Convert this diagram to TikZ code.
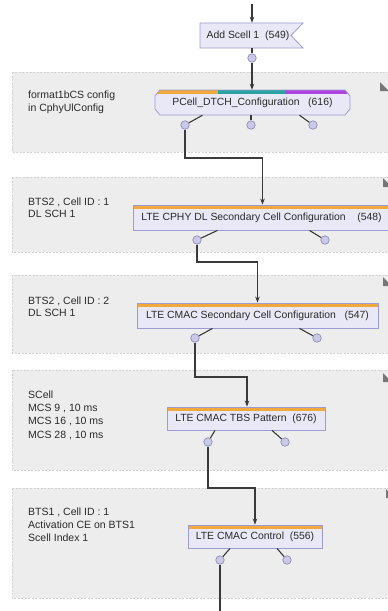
\documentclass[tikz,border=0pt]{standalone}
\usepackage{fontspec}
\setmainfont{Liberation Sans}
\usetikzlibrary{arrows.meta}
\definecolor{panelfill}{HTML}{EDEDED}
\definecolor{paneledge}{HTML}{D2D2D2}
\definecolor{boxfill}{HTML}{E8E8F7}
\definecolor{boxedge}{HTML}{9C9CD4}
\definecolor{stripeor}{HTML}{F2A83A}
\definecolor{stripeteal}{HTML}{2AA3A0}
\definecolor{stripepur}{HTML}{B044E0}
\definecolor{portfill}{HTML}{C9C9EA}
\definecolor{portedge}{HTML}{8585B5}
\definecolor{conncol}{HTML}{3A3A3A}
\definecolor{txtcol}{HTML}{2A2A2A}
\definecolor{markcol}{HTML}{767676}
\begin{document}
\begin{tikzpicture}[x=1pt,y=-1pt,
 panel/.style={fill=panelfill,draw=paneledge,dash pattern=on 2pt off 1.5pt,line width=0.6pt},
 note/.style={anchor=west,align=left,font=\fontsize{10.5}{12.5}\selectfont,text=txtcol,inner sep=0pt},
 blk/.style={rectangle,fill=boxfill,draw=boxedge,line width=0.8pt,inner sep=0pt,
   font=\fontsize{10.4}{12}\selectfont,text=txtcol,
   path picture={\fill[stripeor] (path picture bounding box.north west) rectangle ([yshift=-4pt]path picture bounding box.north east);}},
 lbl/.style={inner sep=0pt,font=\fontsize{10.4}{12}\selectfont,text=txtcol},
 port/.style={circle,fill=portfill,draw=portedge,line width=0.6pt,minimum size=8.5pt,inner sep=0pt},
 stub/.style={draw=conncol,line width=1.1pt},
 conn/.style={draw=conncol,line width=1.2pt},
 arr/.style={conn,-{Stealth[length=6pt,width=4.5pt]}},
 dogear/.style={fill=markcol}
]
\clip (0,0) rectangle (388,611);
\fill[white] (0,0) rectangle (388,611);

% panels
\draw[panel] (12,72) rectangle (395,152);
\draw[panel] (12,177) rectangle (395,252);
\draw[panel] (12,275) rectangle (395,353);
\draw[panel] (12,370) rectangle (395,470);
\draw[panel] (12,488) rectangle (395,598);
\fill[dogear] (380,82) -- (389,91) -- (380,91) -- cycle;
\fill[dogear] (383,178) -- (392,187) -- (383,187) -- cycle;
\fill[dogear] (383,277) -- (392,286) -- (383,286) -- cycle;
\fill[dogear] (383,373) -- (392,382) -- (383,382) -- cycle;
\fill[dogear] (386,489) -- (395,498) -- (386,498) -- cycle;

% panel notes
\node[note] (n1) at (28,102.5) {format1bCS config\\in CphyUlConfig};
\node[note] (n2) at (28,207.5) {BTS2 , Cell ID : 1\\DL SCH 1};
\node[note] (n3) at (28,306.5) {BTS2 , Cell ID : 2\\DL SCH 1};
\node[note,font=\fontsize{10.5}{13.3}\selectfont] (n4) at (28,415) {SCell\\MCS 9 , 10 ms\\MCS 16 , 10 ms\\MCS 28 , 10 ms};
\node[note,font=\fontsize{10.5}{13}\selectfont] (n5) at (28,525) {BTS1 , Cell ID : 1\\Activation CE on BTS1\\Scell Index 1};

% Add Scell banner
\draw[fill=boxfill,draw=boxedge,line width=0.8pt] (200,23) -- (303,23) -- (291,35.5) -- (303,48) -- (200,48) -- cycle;
\node[inner sep=0pt,minimum width=104pt,minimum height=25pt] (add) at (252,35.5) {};
\node[lbl] (addt) at (248,35.5) {Add Scell 1\ \ (549)};

% PCell chamfered box
\begin{scope}
\clip (160,90) -- (345,90) -- (350,96) -- (350,109) -- (345,115) -- (160,115) -- (155,109) -- (155,96) -- cycle;
\fill[boxfill] (150,85) rectangle (355,120);
\fill[stripeor] (150,90) rectangle (218,94);
\fill[stripeteal] (218,90) rectangle (285,94);
\fill[stripepur] (285,90) rectangle (355,94);
\end{scope}
\draw[draw=boxedge,line width=0.8pt] (160,90) -- (345,90) -- (350,96) -- (350,109) -- (345,115) -- (160,115) -- (155,109) -- (155,96) -- cycle;
\node[lbl,minimum width=195pt,minimum height=25pt] (pc) at (252.5,102.5) {PCell\_DTCH\_Configuration\ \ \ (616)};

% other blocks
\node[blk,minimum width=257pt,minimum height=25pt] (cphy) at (261.5,217.5) {LTE CPHY DL Secondary Cell Configuration\ \ \ \ (548)};
\node[blk,minimum width=241pt,minimum height=25pt] (cmac) at (257.5,315.5) {LTE CMAC Secondary Cell Configuration\ \ \ (547)};
\node[blk,minimum width=158pt,minimum height=23pt] (tbs) at (246,418.5) {LTE CMAC TBS Pattern\ \ (676)};
\node[blk,minimum width=134pt,minimum height=23pt] (ctrl) at (255,536.5) {LTE CMAC Control\ \ (556)};

% ports
\node[port] (pa) at (252,58) {};
\node[port] (p1a) at (185,125) {};
\node[port] (p1b) at (251,125) {};
\node[port] (p1c) at (313,125) {};
\node[port] (p2a) at (197,240) {};
\node[port] (p2b) at (325,240) {};
\node[port] (p3a) at (195,338) {};
\node[port] (p3b) at (317,338) {};
\node[port] (p4a) at (208,442) {};
\node[port] (p4b) at (285,442) {};
\node[port] (p5a) at (220,560) {};
\node[port] (p5b) at (287,560) {};

% stubs
\draw[stub] (add.south) -- (pa);
\draw[stub] ([xshift=-50pt]pc.south) -- (p1a);
\draw[stub] (pc.south -| p1b) -- (p1b);
\draw[stub] ([xshift=47pt]pc.south) -- (p1c);
\draw[stub] ([xshift=-44pt]cphy.south) -- (p2a);
\draw[stub] ([xshift=48pt]cphy.south) -- (p2b);
\draw[stub] ([xshift=-45pt]cmac.south) -- (p3a);
\draw[stub] ([xshift=42pt]cmac.south) -- (p3b);
\draw[stub] ([xshift=-31pt]tbs.south) -- (p4a);
\draw[stub] ([xshift=26pt]tbs.south) -- (p4b);
\draw[stub] ([xshift=-25pt]ctrl.south) -- (p5a);
\draw[stub] ([xshift=22pt]ctrl.south) -- (p5b);

% connectors
\coordinate (top) at (252,4);
\coordinate (b1) at (185,158);
\coordinate (b2) at (197,262);
\coordinate (b3) at (195,377);
\coordinate (b4) at (208,488);
\coordinate (bot) at (220,611);
\draw[arr] (top) -- (add.north);
\draw[arr] (pa) -- (pc.north -| pa);
\draw[arr] (p1a) -- (b1) -| ([xshift=1pt]cphy.north);
\draw[arr] (p2a) -- (b2) -| (cmac.north);
\draw[arr] (p3a) -- (b3) -| ([xshift=1pt]tbs.north);
\draw[arr] (p4a) -- (b4) -| (ctrl.north);
\draw[conn] (p5a) -- (bot);
\end{tikzpicture}
\end{document}
